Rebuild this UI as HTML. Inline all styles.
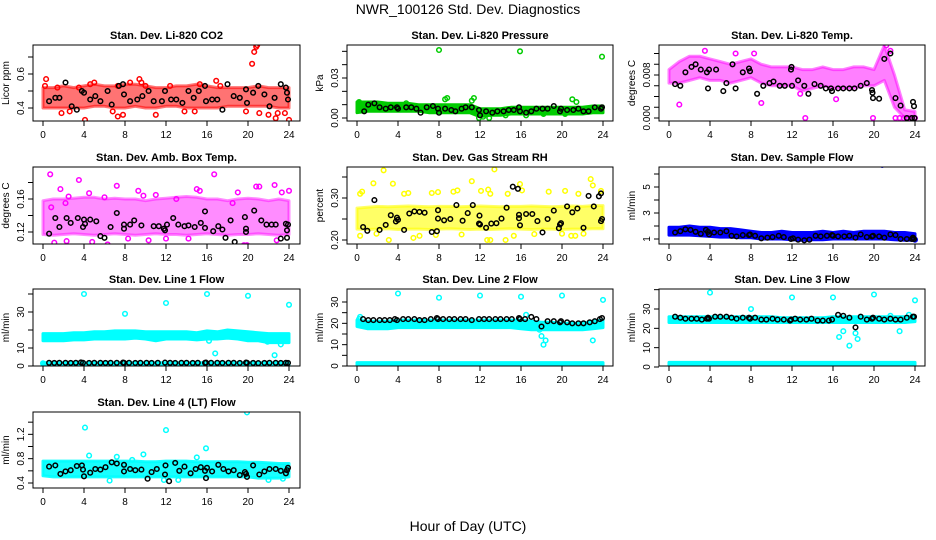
<!DOCTYPE html>
<html><head><meta charset="utf-8">
<style>
body{margin:0;background:#fff;}
svg{display:block;font-family:"Liberation Sans",sans-serif;}
</style></head>
<body>
<svg id="chart" width="936" height="540" viewBox="0 0 936 540" xmlns="http://www.w3.org/2000/svg">
<rect width="936" height="540" fill="#fff"/>
<text x="468" y="14" font-size="14" text-anchor="middle">NWR_100126  Std. Dev. Diagnostics</text>
<text x="468" y="531" font-size="14" text-anchor="middle">Hour of Day (UTC)</text>
</svg>
<script>
// ---- data ----
const xTicks = [0,4,8,12,16,20,24];

const co2Lo = [0.40,0.40,0.40,0.40,0.40,0.41,0.41,0.40,0.40,0.41,0.40,0.40,0.41,0.41,0.40,0.40,0.40,0.40,0.41,0.41,0.41,0.41,0.41,0.40,0.40];
const co2Hi = [0.52,0.52,0.53,0.52,0.53,0.54,0.53,0.53,0.54,0.54,0.53,0.52,0.52,0.53,0.53,0.54,0.53,0.52,0.52,0.52,0.52,0.53,0.52,0.52,0.52];
const co2Pts = [[0.3,0.57],[0.2,0.53],[1.4,0.52],[1.8,0.37],[2.6,0.38],[4.1,0.33],[4.6,0.54],[5.0,0.55],[6.8,0.38],[7.3,0.53],[7.3,0.35],[7.8,0.36],[8.5,0.55],[9.4,0.57],[9.6,0.55],[10.0,0.53],[11.0,0.36],[12.4,0.53],[13.8,0.38],[14.8,0.38],[16.9,0.56],[17.3,0.53],[20.4,0.66],[20.6,0.73],[20.8,0.76],[20.9,0.77],[21.1,0.37],[22.0,0.36],[22.7,0.34],[22.9,0.37],[23.6,0.37],[24.0,0.33],[19.8,0.38],[3.5,0.52],[15.3,0.54]];
const co2Black = [[0.6,0.44],[1.2,0.46],[1.6,0.46],[2.2,0.55],[2.8,0.41],[3.3,0.39],[3.8,0.50],[4.0,0.49],[4.6,0.45],[5.1,0.47],[5.6,0.44],[6.3,0.50],[6.7,0.42],[7.4,0.53],[7.8,0.54],[7.9,0.48],[8.5,0.44],[9.2,0.45],[9.7,0.47],[10.3,0.50],[10.8,0.44],[11.6,0.44],[11.9,0.50],[12.5,0.45],[13.0,0.45],[13.6,0.43],[14.2,0.50],[14.7,0.46],[15.2,0.50],[15.8,0.53],[15.9,0.44],[16.5,0.45],[17.0,0.45],[17.5,0.39],[18.0,0.54],[18.6,0.47],[19.2,0.46],[19.8,0.51],[19.9,0.43],[20.5,0.49],[21.0,0.53],[21.6,0.48],[22.1,0.41],[22.6,0.46],[23.2,0.54],[23.7,0.52],[23.8,0.49],[23.9,0.45]];

const presLo = [0.004,0.005,0.005,0.005,0.005,0.005,0.005,0.004,0.004,0.004,0.004,0.004,0.001,0.002,0.002,0.003,0.003,0.003,0.003,0.003,0.003,0.003,0.003,0.004,0.004];
const presHi = [0.012,0.012,0.012,0.011,0.011,0.011,0.010,0.010,0.010,0.010,0.010,0.010,0.007,0.007,0.007,0.008,0.008,0.008,0.008,0.008,0.008,0.008,0.008,0.009,0.009];
const presPts = [[8.0,0.051],[15.9,0.050],[23.9,0.046],[8.6,0.014],[8.8,0.015],[11.4,0.015],[11.2,0.013],[12.3,0.001],[12.9,0.000],[11.9,0.000],[14.5,0.002],[18.2,0.003],[21.0,0.014],[21.4,0.012],[20.3,0.003],[16.5,0.002],[4.8,0.011],[0.2,0.012]];
const presBlack = [[0.7,0.005],[1.1,0.010],[1.7,0.011],[2.2,0.008],[2.8,0.007],[3.3,0.008],[3.9,0.008],[4.0,0.007],[4.8,0.008],[5.3,0.008],[5.8,0.007],[6.2,0.004],[6.8,0.008],[7.4,0.009],[7.9,0.007],[8.0,0.004],[8.6,0.007],[9.2,0.006],[9.6,0.005],[10.2,0.007],[10.6,0.008],[11.2,0.008],[11.9,0.006],[12.0,0.002],[12.6,0.005],[13.2,0.004],[13.7,0.005],[14.3,0.005],[14.8,0.006],[15.3,0.006],[15.8,0.008],[15.9,0.005],[16.5,0.004],[17.0,0.005],[17.5,0.007],[18.1,0.007],[18.6,0.007],[19.2,0.009],[19.8,0.005],[19.9,0.007],[20.5,0.006],[21.1,0.006],[21.6,0.007],[22.1,0.005],[22.6,0.005],[23.2,0.008],[23.8,0.007],[23.9,0.008]];

const tempLo = [0.0065,0.0065,0.007,0.0075,0.007,0.007,0.0065,0.007,0.0075,0.0065,0.006,0.006,0.006,0.005,0.0055,0.006,0.0055,0.0055,0.0055,0.006,0.006,0.007,0.002,0.000,0.000];
const tempHi = [0.009,0.0105,0.0115,0.0115,0.011,0.0105,0.010,0.0105,0.011,0.010,0.0095,0.0095,0.0095,0.009,0.009,0.0095,0.009,0.009,0.0095,0.0095,0.009,0.0135,0.008,0.0015,0.0012];
const tempPts = [[1.0,0.0025],[9.0,0.0028],[13.3,0.000],[19.9,0.000],[6.5,0.012],[8.3,0.012],[3.5,0.0125],[21.6,0.0125],[21.2,0.0135],[12.8,0.0045],[16.3,0.0035],[22.1,0.000],[22.5,0.000],[22.9,0.000],[23.3,0.000],[23.6,0.000],[24.0,0.000]];
const tempBlack = [[0.6,0.0063],[1.1,0.006],[1.6,0.0085],[2.2,0.0095],[2.6,0.010],[3.1,0.009],[3.7,0.0085],[3.8,0.0055],[3.9,0.009],[4.6,0.009],[5.3,0.005],[5.6,0.0065],[6.2,0.010],[6.5,0.0055],[7.2,0.0085],[7.8,0.0092],[7.9,0.0087],[8.6,0.0045],[9.2,0.006],[9.8,0.0065],[10.2,0.0068],[10.8,0.006],[11.3,0.006],[11.9,0.009],[11.95,0.0095],[12.0,0.006],[12.6,0.007],[13.2,0.006],[13.6,0.0045],[14.2,0.0063],[14.8,0.006],[15.3,0.0055],[15.8,0.0055],[15.9,0.005],[16.5,0.0055],[17.0,0.0055],[17.6,0.0055],[18.1,0.0055],[18.7,0.006],[19.3,0.0065],[19.8,0.0052],[19.85,0.0047],[19.9,0.0037],[20.5,0.0036],[21.0,0.011],[21.6,0.012],[22.1,0.0037],[22.6,0.0023],[23.2,0.000],[23.7,0.000],[23.8,0.003],[23.9,0.0022],[23.95,0.000]];

const ambLo = [0.117,0.116,0.117,0.118,0.117,0.116,0.117,0.118,0.117,0.116,0.117,0.118,0.117,0.117,0.116,0.117,0.118,0.117,0.116,0.117,0.117,0.118,0.117,0.116,0.117];
const ambHi = [0.158,0.160,0.160,0.161,0.162,0.162,0.160,0.161,0.160,0.160,0.158,0.160,0.161,0.162,0.163,0.162,0.160,0.160,0.158,0.160,0.161,0.160,0.158,0.160,0.158];
const ambPts = [[0.7,0.19],[3.5,0.183],[1.7,0.172],[2.2,0.155],[2.5,0.163],[4.5,0.167],[7.2,0.176],[9.3,0.17],[11.0,0.165],[15.0,0.172],[15.3,0.17],[16.7,0.19],[19.0,0.168],[20.8,0.175],[21.1,0.175],[22.6,0.177],[24.0,0.17],[23.3,0.168],[18.5,0.155],[1.1,0.107],[2.3,0.109],[4.8,0.108],[6.3,0.105],[8.3,0.112],[10.3,0.11],[12.0,0.112],[17.8,0.102],[19.6,0.104],[19.9,0.104],[22.8,0.11],[14.2,0.112],[0.8,0.15],[6.0,0.162],[13.0,0.16],[9.8,0.164]];
const ambBlack = [[0.6,0.118],[1.2,0.137],[1.6,0.126],[2.3,0.137],[2.7,0.131],[3.4,0.137],[3.9,0.126],[4.0,0.135],[4.1,0.130],[4.6,0.135],[5.2,0.133],[5.6,0.115],[6.0,0.113],[6.6,0.126],[7.2,0.143],[7.9,0.129],[7.9,0.124],[8.5,0.129],[8.9,0.134],[9.6,0.128],[10.3,0.102],[10.8,0.127],[11.3,0.127],[11.8,0.124],[11.9,0.122],[12.1,0.129],[12.7,0.137],[13.2,0.129],[13.8,0.127],[14.2,0.128],[14.8,0.126],[15.4,0.131],[15.8,0.125],[15.8,0.145],[16.6,0.121],[17.1,0.127],[17.5,0.123],[17.8,0.113],[18.3,0.134],[18.7,0.108],[19.7,0.138],[19.8,0.120],[19.8,0.124],[20.6,0.146],[21.3,0.134],[21.8,0.129],[22.3,0.129],[22.7,0.129],[23.2,0.112],[23.7,0.130],[23.8,0.122],[23.8,0.113],[23.9,0.129]];

const rhLo = [0.226,0.225,0.226,0.227,0.225,0.226,0.226,0.225,0.226,0.227,0.226,0.225,0.226,0.225,0.226,0.227,0.226,0.225,0.226,0.226,0.225,0.226,0.226,0.227,0.227];
const rhHi = [0.276,0.278,0.280,0.279,0.280,0.281,0.280,0.279,0.280,0.280,0.279,0.280,0.281,0.280,0.279,0.280,0.280,0.281,0.280,0.279,0.280,0.281,0.280,0.282,0.282];
const rhPts = [[2.6,0.366],[13.4,0.368],[12.8,0.32],[1.6,0.335],[3.5,0.334],[11.2,0.34],[15.9,0.333],[22.8,0.345],[0.3,0.31],[0.5,0.315],[4.6,0.31],[5.0,0.312],[7.3,0.312],[7.9,0.314],[9.4,0.315],[9.8,0.318],[12.1,0.317],[13.0,0.31],[14.7,0.31],[16.1,0.318],[18.7,0.315],[20.3,0.317],[21.6,0.31],[23.0,0.33],[23.8,0.317],[0.3,0.21],[3.1,0.20],[5.5,0.205],[7.7,0.212],[10.2,0.213],[12.7,0.20],[13.0,0.20],[14.5,0.20],[15.3,0.21],[17.3,0.214],[20.0,0.215],[20.9,0.21],[21.3,0.21],[22.1,0.215],[6.1,0.21],[1.9,0.215]];
const rhBlack = [[0.6,0.231],[1.0,0.222],[1.7,0.295],[2.2,0.224],[2.8,0.236],[3.3,0.259],[3.8,0.244],[3.9,0.253],[4.0,0.248],[4.6,0.224],[5.1,0.263],[5.6,0.268],[6.1,0.267],[6.6,0.265],[7.3,0.219],[7.8,0.221],[7.9,0.271],[7.9,0.251],[8.5,0.247],[9.1,0.25],[9.7,0.283],[10.3,0.246],[10.8,0.264],[11.3,0.283],[11.9,0.239],[11.95,0.258],[12.0,0.237],[12.6,0.229],[13.1,0.239],[13.6,0.24],[14.1,0.251],[14.6,0.277],[15.2,0.327],[15.7,0.322],[15.8,0.26],[15.8,0.252],[15.9,0.235],[16.5,0.262],[17.1,0.262],[17.6,0.245],[18.1,0.218],[18.6,0.25],[19.2,0.27],[19.7,0.228],[19.8,0.237],[19.9,0.24],[20.5,0.28],[21.0,0.266],[21.5,0.275],[22.1,0.229],[22.6,0.305],[23.1,0.28],[23.6,0.304],[23.8,0.311],[23.8,0.245],[23.9,0.25]];

const sfLo = [1.3,1.3,1.3,1.25,1.2,1.15,1.15,1.1,1.1,1.0,1.0,1.0,0.95,0.9,0.95,0.95,1.0,1.0,1.0,1.0,1.0,1.0,0.95,0.9,0.9];
const sfHi = [1.9,1.9,2.0,1.9,1.9,1.8,1.8,1.7,1.6,1.5,1.5,1.6,1.5,1.5,1.5,1.6,1.5,1.6,1.5,1.6,1.6,1.6,1.5,1.5,1.4];
const sfPts = [[20.8,6.7],[0.2,1.5],[24.0,0.95]];
const sfBlack = [[0.6,1.5],[1.1,1.6],[1.6,1.75],[2.1,1.7],[2.6,1.55],[3.1,1.4],[3.6,1.7],[3.8,1.55],[3.9,1.35],[4.4,1.5],[5.0,1.5],[5.6,1.6],[6.1,1.25],[6.6,1.2],[7.2,1.3],[7.8,1.3],[7.9,1.35],[8.4,1.25],[9.0,1.05],[9.6,1.1],[10.1,1.15],[10.7,1.25],[11.2,1.15],[11.9,1.0],[12.1,1.05],[12.6,0.95],[13.2,0.9],[13.7,0.95],[14.3,1.25],[14.8,1.2],[15.4,1.25],[15.9,1.3],[16.0,1.25],[16.5,1.2],[17.1,1.2],[17.6,1.25],[18.2,1.1],[18.7,1.35],[19.3,1.15],[19.8,1.2],[19.9,1.25],[20.5,1.2],[21.0,1.1],[21.6,1.35],[22.1,1.3],[22.6,1.0],[23.2,1.0],[23.7,1.0],[23.8,1.1],[23.9,1.0]];

const l1Lo = [14,14,14,14.5,14.5,15,15,15,15,15.5,15,14,15,15,15,14.5,15,15,15.5,15,14,14,13,13,13];
const l1Hi = [18,18,18,18.5,18.5,19,19,19.5,19.5,19.5,19,19,19,19,19,18.5,19.5,19,20,19.5,19,18.5,18,18,18];
const l1BaseLo = [0.3,0.3,0.3,0.3,0.3,0.3,0.3,0.3,0.3,0.3,0.3,0.3,0.3,0.3,0.3,0.3,0.3,0.3,0.3,0.3,0.3,0.3,0.3,0.3,0.3];
const l1BaseHi = [1.8,1.8,1.8,1.8,1.8,1.8,1.8,1.8,1.8,1.8,1.8,1.8,1.8,1.8,1.8,1.8,1.8,1.8,1.8,1.8,1.8,1.8,1.8,1.8,1.8];
const l1Pts = [[4.0,40],[8.0,29],[12.0,35],[16.0,40],[20.0,39],[24.0,34],[16.2,14],[16.8,7],[22.6,6],[23.2,12],[21.9,13.5],[0.0,1.5]];
const l1Black = [[0.6,1.8],[1.1,1.7],[1.6,1.8],[2.2,1.8],[2.7,1.7],[3.2,1.8],[3.7,2.0],[3.9,1.8],[4.5,1.7],[5.0,1.8],[5.6,1.8],[6.1,1.7],[6.6,1.8],[7.2,1.8],[7.8,1.9],[7.9,1.8],[8.4,1.8],[9.0,1.7],[9.5,1.8],[10.1,1.8],[10.6,1.7],[11.2,1.8],[11.9,1.9],[12.4,1.8],[12.9,1.7],[13.5,1.8],[14.0,1.8],[14.6,1.7],[15.1,1.8],[15.8,1.8],[15.9,1.9],[16.4,1.8],[17.0,1.8],[17.5,1.7],[18.1,1.8],[18.6,1.8],[19.2,1.7],[19.8,1.9],[19.9,1.8],[20.5,1.7],[21.0,1.6],[21.6,1.7],[22.1,1.8],[22.7,1.8],[23.2,1.7],[23.7,1.8],[23.9,1.7]];

const l2Lo = [18.5,17.5,17.5,17.5,18,18,18,18,18,18,18,18,18,18,18,18,17.5,17,17,17,17,17,17,17.5,18];
const l2Hi = [21.5,21,21,21,21.5,21.5,21.5,21.5,21.5,21.5,21.5,21.5,21.5,21.5,21.5,21.5,21.5,21,20.5,20.5,20,20,20,21,21.5];
const l2BaseLo = [0.2,0.2,0.2,0.2,0.2,0.2,0.2,0.2,0.2,0.2,0.2,0.2,0.2,0.2,0.2,0.2,0.2,0.2,0.2,0.2,0.2,0.2,0.2,0.2,0.2];
const l2BaseHi = [1.6,1.6,1.6,1.6,1.6,1.6,1.6,1.6,1.6,1.6,1.6,1.6,1.6,1.6,1.6,1.6,1.6,1.6,1.6,1.6,1.6,1.6,1.6,1.6,1.6];
const l2Pts = [[0.2,22],[4,34],[8,32],[12,33],[16,32.5],[20,33],[24,31],[18,14],[18.2,10],[18.4,12],[17.8,17],[23,12],[16.5,24],[0.3,23]];
const l2Black = [[0.6,22],[1.1,21.5],[1.6,21.5],[2.2,21.5],[2.7,21.5],[3.2,21.5],[3.7,22],[3.9,21.5],[4.5,22],[5.0,22],[5.6,22],[6.1,21.5],[6.6,21.5],[7.2,22],[7.8,22.5],[7.9,22],[8.4,22],[9.0,22],[9.5,22],[10.1,22],[10.6,22],[11.2,21.5],[11.9,22],[12.4,22],[12.9,22],[13.5,22],[14.0,22],[14.6,22],[15.1,22],[15.8,22.5],[15.9,22],[16.4,22],[17.0,23],[17.5,22],[18.0,18.5],[18.6,21],[19.2,21],[19.8,20.5],[19.9,21],[20.5,20.5],[21.0,20],[21.6,20],[22.1,20],[22.7,20.5],[23.2,21],[23.7,22],[23.9,22.5]];

const l3Lo = [23,23,23,23,23,23,23,23,23,23,23,23,23,23,23,23,23,23,23,23,23,23,23,23,23.5];
const l3Hi = [26,26,26,26,26,26,26,26,26,26,26,25.5,25.5,25.5,25.5,25.5,26,26,26,26,26,26,26,26,26.5];
const l3BaseLo = [0.3,0.3,0.3,0.3,0.3,0.3,0.3,0.3,0.3,0.3,0.3,0.3,0.3,0.3,0.3,0.3,0.3,0.3,0.3,0.3,0.3,0.3,0.3,0.3,0.3];
const l3BaseHi = [2.4,2.4,2.4,2.4,2.4,2.4,2.4,2.4,2.4,2.4,2.4,2.4,2.4,2.4,2.4,2.4,2.4,2.4,2.4,2.4,2.4,2.4,2.4,2.4,2.4];
const l3Pts = [[4,38.5],[8,30],[12,36],[16,36],[20,37.5],[24,34.5],[16.6,15.5],[17.0,18.5],[17.6,11],[18.2,17.5],[18.4,14.5],[22.5,18.5],[23.4,27],[21.6,26.5]];
const l3Black = [[0.6,26],[1.1,25.5],[1.6,25],[2.2,25],[2.7,25],[3.2,24.5],[3.7,25],[3.8,25.5],[3.9,25],[4.5,26],[5.0,26],[5.6,26],[6.1,25.5],[6.6,25],[7.2,25.5],[7.8,25.5],[7.9,25],[8.4,25.5],[9.0,24.5],[9.5,24.5],[10.1,25],[10.6,24.5],[11.2,24.5],[11.8,24],[11.9,24.5],[12.3,25],[12.8,24.5],[13.4,24.5],[13.9,25],[14.5,24],[15.0,24],[15.6,24],[15.9,24.5],[16.5,27],[17.0,26.5],[17.6,25.5],[18.2,20.5],[18.7,26],[19.3,24.5],[19.8,25],[19.9,25.5],[20.5,25],[21.0,24.5],[21.6,25],[22.1,24.5],[22.6,24.5],[23.2,25.5],[23.8,26],[23.9,26]];

const l4Lo = [0.52,0.5,0.5,0.5,0.5,0.5,0.5,0.5,0.5,0.5,0.5,0.5,0.5,0.5,0.5,0.5,0.5,0.5,0.5,0.5,0.5,0.48,0.48,0.48,0.5];
const l4Hi = [0.76,0.76,0.76,0.76,0.76,0.76,0.76,0.76,0.76,0.76,0.75,0.75,0.76,0.76,0.76,0.75,0.75,0.75,0.75,0.75,0.74,0.74,0.73,0.72,0.72];
const l4Pts = [[4.1,1.31],[12.0,1.27],[19.9,1.56],[15.9,0.97],[9.8,0.87],[4.5,0.85],[7.2,0.83],[6.5,0.44],[11.8,0.45],[13.2,0.45],[22.0,0.45],[23.4,0.47],[15.0,0.82],[8.7,0.78]];
const l4Black = [[0.6,0.67],[1.2,0.69],[1.7,0.55],[2.2,0.59],[2.7,0.61],[3.3,0.68],[3.8,0.69],[3.9,0.62],[4.0,0.51],[4.6,0.57],[5.1,0.63],[5.6,0.62],[6.1,0.66],[6.7,0.74],[7.2,0.72],[7.9,0.59],[7.9,0.70],[8.5,0.63],[9.0,0.61],[9.6,0.62],[10.2,0.47],[10.6,0.58],[11.1,0.63],[11.9,0.54],[11.95,0.69],[12.3,0.43],[12.9,0.73],[13.3,0.6],[13.8,0.67],[14.4,0.56],[14.9,0.63],[15.4,0.66],[15.8,0.6],[15.9,0.48],[16.0,0.65],[16.5,0.59],[17.1,0.70],[17.6,0.63],[18.1,0.59],[18.6,0.61],[19.2,0.53],[19.7,0.58],[19.8,0.55],[19.9,0.5],[20.5,0.69],[21.1,0.54],[21.6,0.59],[22.1,0.63],[22.7,0.63],[23.2,0.6],[23.7,0.56],[23.8,0.61],[23.9,0.65]];

const co2Ticks=[0.4,0.5,0.6,0.7], co2Labels=["0.4","","0.6",""];
const presTicks=[0,0.01,0.02,0.03,0.04,0.05], presLabels=["0.00","","","0.03","",""];
const tempTicks=[0,0.002,0.004,0.006,0.008,0.010,0.012], tempLabels=["0.000","","","","0.008","",""];
const ambTicks=[0.12,0.14,0.16,0.18], ambLabels=["0.12","","0.16",""];
const rhTicks=[0.20,0.25,0.30,0.35], rhLabels=["0.20","","0.30",""];
const sfTicks=[1,2,3,4,5,6], sfLabels=["1","","3","","5",""];
const l1Ticks=[0,10,20,30,40], l1Labels=["0","10","","30",""];
const l2Ticks=[0,5,10,15,20,25,30], l2Labels=["0","","10","","20","","30"];
const l3Ticks=[0,10,20,30,40], l3Labels=["0","10","20","30",""];
const l4Ticks=[0.4,0.6,0.8,1.0,1.2,1.4,1.6], l4Labels=["0.4","","0.8","","1.2","","1.6"];

// ---- layout (pixel geometry, not data) ----
const panels = [
 {id:"co2",title:"Stan. Dev. Li-820 CO2",yl:"Licor ppm",box:[33,45,300,121],y1:[0.4,108],y2:[0.6,74],col:"#ff0000",op:0.55,bands:[[co2Lo,co2Hi]],pts:co2Pts,blk:co2Black,ticks:co2Ticks,labels:co2Labels},
 {id:"pressure",title:"Stan. Dev. Li-820 Pressure",yl:"kPa",box:[347,45,613,121],y1:[0,118],y2:[0.03,78],col:"#00cc00",op:1,bands:[[presLo,presHi]],pts:presPts,blk:presBlack,ticks:presTicks,labels:presLabels},
 {id:"temp",title:"Stan. Dev. Li-820 Temp.",yl:"degrees C",box:[659,45,925,121],y1:[0,118],y2:[0.008,75],col:"#ff00ff",op:0.5,bands:[[tempLo,tempHi]],pts:tempPts,blk:tempBlack,ticks:tempTicks,labels:tempLabels},
 {id:"ambbox",title:"Stan. Dev. Amb. Box Temp.",yl:"degrees C",box:[33,167,300,244],y1:[0.12,232],y2:[0.16,199],col:"#ff00ff",op:0.45,bands:[[ambLo,ambHi]],pts:ambPts,blk:ambBlack,ticks:ambTicks,labels:ambLabels},
 {id:"rh",title:"Stan. Dev. Gas Stream RH",yl:"percent",box:[347,167,613,244],y1:[0.20,240],y2:[0.30,198],col:"#ffff00",op:0.6,bands:[[rhLo,rhHi]],pts:rhPts,blk:rhBlack,ticks:rhTicks,labels:rhLabels},
 {id:"sampleflow",title:"Stan. Dev. Sample Flow",yl:"ml/min",box:[659,167,925,244],y1:[1,239],y2:[5,187],col:"#0000ff",op:1,bands:[[sfLo,sfHi]],pts:sfPts,blk:sfBlack,ticks:sfTicks,labels:sfLabels},
 {id:"line1",title:"Stan. Dev. Line 1 Flow",yl:"ml/min",box:[33,289,300,366],y1:[0,366],y2:[30,312],col:"#00ffff",op:1,bands:[[l1Lo,l1Hi],[l1BaseLo,l1BaseHi]],pts:l1Pts,blk:l1Black,ticks:l1Ticks,labels:l1Labels},
 {id:"line2",title:"Stan. Dev. Line 2 Flow",yl:"ml/min",box:[347,289,613,366],y1:[0,366],y2:[30,302],col:"#00ffff",op:1,bands:[[l2Lo,l2Hi],[l2BaseLo,l2BaseHi]],pts:l2Pts,blk:l2Black,ticks:l2Ticks,labels:l2Labels},
 {id:"line3",title:"Stan. Dev. Line 3 Flow",yl:"ml/min",box:[659,289,925,366],y1:[0,367],y2:[30,309],col:"#00ffff",op:1,bands:[[l3Lo,l3Hi],[l3BaseLo,l3BaseHi]],pts:l3Pts,blk:l3Black,ticks:l3Ticks,labels:l3Labels},
 {id:"line4",title:"Stan. Dev. Line 4 (LT) Flow",yl:"ml/min",box:[33,412,300,488],y1:[0.4,483],y2:[1.6,410],col:"#00ffff",op:0.9,bands:[[l4Lo,l4Hi]],pts:l4Pts,blk:l4Black,ticks:l4Ticks,labels:l4Labels}
];

const NS="http://www.w3.org/2000/svg";
const svg=document.getElementById('chart');
function mk(tag,attrs,parent){const e=document.createElementNS(NS,tag);for(const k in attrs)e.setAttribute(k,attrs[k]);(parent||svg).appendChild(e);return e;}

panels.forEach(p=>{
  const [L,T,R,B]=p.box;
  const xs=h=>L+10+h*(246/24);
  const ys=v=>p.y1[1]+(v-p.y1[0])*(p.y2[1]-p.y1[1])/(p.y2[0]-p.y1[0]);
  const g=mk('g',{});
  
  
  const clipId='clip-'+p.id;
  const cp=mk('clipPath',{id:clipId},g);
  mk('rect',{x:L,y:T,width:R-L,height:B-T},cp);
  const plot=mk('g',{'clip-path':'url(#'+clipId+')'},g);
  
  
  p.bands.forEach((bd,bi)=>{
    const lo=bd[0],hi=bd[1];
    let d='';
    hi.forEach((v,i)=>{d+=(i?'L':'M')+xs(i).toFixed(1)+' '+ys(v).toFixed(1);});
    for(let i=lo.length-1;i>=0;i--) d+='L'+xs(i).toFixed(1)+' '+ys(lo[i]).toFixed(1);
    d+='Z';
    const band=mk('path',{d:d,fill:p.col,'fill-opacity':p.op,stroke:p.col,'stroke-width':3,'stroke-opacity':p.op,'stroke-linejoin':'round'},plot);
    
    
  });
  p.pts.forEach(pt=>{
    const c=mk('circle',{cx:xs(pt[0]).toFixed(1),cy:ys(pt[1]).toFixed(1),r:2.3,fill:'none',stroke:p.col,'stroke-width':1.5},plot);
    
    
  });
  p.blk.forEach(pt=>{
    const c=mk('circle',{cx:xs(pt[0]).toFixed(1),cy:ys(pt[1]).toFixed(1),r:2.3,fill:'none',stroke:'#000','stroke-width':1.5},plot);
    
    
  });
  const fr=mk('rect',{x:L,y:T,width:R-L,height:B-T,fill:'none',stroke:'#000','stroke-width':1},g);
  
  
  const t=mk('text',{x:(L+R)/2,y:T-6,'font-size':11,'font-weight':'bold','text-anchor':'middle'},g);
  t.textContent=p.title;
  
  
  const xa=mk('g',{},g);
  
  
  xTicks.forEach(h=>{
    const x=xs(h);
    mk('line',{x1:x,y1:B,x2:x,y2:B+5,stroke:'#000'},xa);
    const tl=mk('text',{x:x,y:B+17,'font-size':10,'text-anchor':'middle'},xa);
    tl.textContent=String(h);
  });
  const ya=mk('g',{},g);
  
  
  p.ticks.forEach((v,i)=>{
    const y=ys(v);
    if(y<T-1||y>B+1) return;
    mk('line',{x1:L-5,y1:y,x2:L,y2:y,stroke:'#000'},ya);
    if(p.labels[i]){
      const tl=mk('text',{x:L-9,y:y,'font-size':10,'text-anchor':'middle',transform:'rotate(-90 '+(L-9)+' '+y+')'},ya);
      tl.textContent=p.labels[i];
    }
  });
  const yl=mk('text',{x:L-24,y:(T+B)/2,'font-size':10,'text-anchor':'middle',transform:'rotate(-90 '+(L-24)+' '+((T+B)/2)+')'},g);
  yl.textContent=p.yl;
  
  
});
</script>
</body></html>
